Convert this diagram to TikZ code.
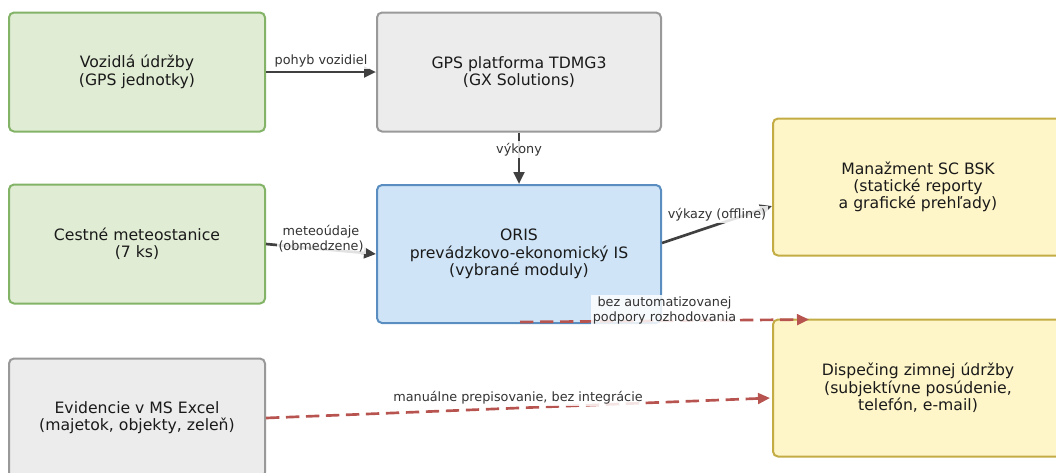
\documentclass[tikz,border=0pt]{standalone}
\usepackage{fontspec}
\setmainfont{DejaVu Sans}
\usetikzlibrary{arrows.meta,calc}
\definecolor{gfill}{HTML}{E0ECD4}
\definecolor{gdraw}{HTML}{82B366}
\definecolor{kfill}{HTML}{ECECEC}
\definecolor{kdraw}{HTML}{999999}
\definecolor{bfill}{HTML}{CFE4F7}
\definecolor{bdraw}{HTML}{5A8DC0}
\definecolor{yfill}{HTML}{FEF5C8}
\definecolor{ydraw}{HTML}{C4AC45}
\definecolor{flowc}{HTML}{404040}
\definecolor{redc}{HTML}{B85450}
\definecolor{txt}{HTML}{1A1A1A}
\definecolor{ltxt}{HTML}{333333}
\tikzset{
  box/.style={draw, line width=1.5pt, rounded corners=3.75pt, align=center,
    text=txt, font=\fontsize{11.75pt}{13pt}\selectfont, inner sep=2pt},
  greenbox/.style={box, fill=gfill, draw=gdraw, minimum width=192pt, minimum height=89.25pt},
  graybox/.style={box, fill=kfill, draw=kdraw},
  bluebox/.style={box, fill=bfill, draw=bdraw},
  yellowbox/.style={box, fill=yfill, draw=ydraw, minimum width=217.5pt, minimum height=102.75pt},
  flow/.style={draw=flowc, line width=2pt, -{Triangle[length=9pt,width=8pt]}},
  manual/.style={draw=redc, line width=2pt, dash pattern=on 10pt off 5pt, -{Triangle[length=9pt,width=8pt]}},
  elabel/.style={fill=white, fill opacity=0.85, text opacity=1, text=ltxt, align=center,
    font=\fontsize{9.6pt}{11.25pt}\selectfont, inner sep=1.5pt}
}
\begin{document}
\begin{tikzpicture}[x=0.75pt,y=-0.75pt]
\useasboundingbox (0,0) rectangle (1056,472);
% nodes
\node[greenbox] (veh) at (137,72) {Vozidlá údržby\\(GPS jednotky)};
\node[greenbox] (cest) at (137,244) {Cestné meteostanice\\(7 ks)};
\node[graybox, minimum width=192pt, minimum height=89.25pt] (evid) at (137,418) {Evidencie v MS Excel\\(majetok, objekty, zeleň)};
\node[graybox, minimum width=213pt, minimum height=89.25pt] (gps) at (519,72) {GPS platforma TDMG3\\(GX Solutions)};
\node[bluebox, minimum width=213pt, minimum height=103.5pt] (oris) at (519,254) {ORIS\\prevádzkovo-ekonomický IS\\(vybrané moduly)};
\node[yellowbox] (man) at (918,187) {Manažment SC BSK\\(statické reporty\\a grafické prehľady)};
\node[yellowbox] (disp) at (918,388) {Dispečing zimnej údržby\\(subjektívne posúdenie,\\telefón, e-mail)};
% connectors
\draw[flow] (veh.east) -- (gps.west) node[elabel, midway, yshift=8.25pt] {pohyb vozidiel};
\draw[flow] (gps.south) -- (oris.north) node[elabel, midway, yshift=6.5pt] {výkony};
\draw[flow] (cest.east) -- (oris.west) node[elabel, midway, yshift=7.5pt] {meteoúdaje\\(obmedzene)};
\draw[flow] ($(oris.east)+(0,-11)$) -- ($(man.west)+(0,19)$) node[elabel, midway, yshift=7.5pt] {výkazy (offline)};
\draw[manual] ($(oris.south)+(1,-2)$) -- ($(disp.north west)+(37,1)$) node[elabel, midway, yshift=7.5pt] {bez automatizovanej\\podpory rozhodovania};
\draw[manual] (evid.east) -- ($(disp.west)+(-2,10)$) node[elabel, midway, yshift=7.5pt] {manuálne prepisovanie, bez integrácie};
\end{tikzpicture}
\end{document}
